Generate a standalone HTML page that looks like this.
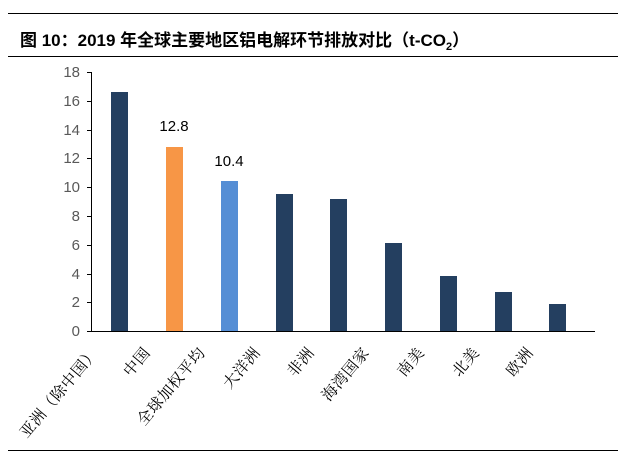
<!DOCTYPE html>
<html><head><meta charset="utf-8"><style>
html,body{margin:0;padding:0;background:#fff;}
body{width:640px;height:453px;position:relative;overflow:hidden;}
</style></head><body>
<svg width="640" height="453" xmlns="http://www.w3.org/2000/svg">
<line x1="8" y1="13.5" x2="618" y2="13.5" stroke="#000" stroke-width="1"/>
<text x="20" y="46" font-family="Liberation Sans, Noto Sans CJK SC, sans-serif" font-size="17" font-weight="bold" fill="#000">图 10：2019 年全球主要地区铝电解环节排放对比（t-CO<tspan font-size="11" dy="4">2</tspan><tspan dy="-4">）</tspan></text>
<line x1="8" y1="56.5" x2="618" y2="56.5" stroke="#000" stroke-width="1"/>
<line x1="8" y1="450.5" x2="618" y2="450.5" stroke="#000" stroke-width="1"/>
<g font-family="Liberation Sans, sans-serif" font-size="15" fill="#595959" text-anchor="end">
<text x="80" y="77">18</text><text x="80" y="106">16</text><text x="80" y="135">14</text>
<text x="80" y="163">12</text><text x="80" y="192">10</text><text x="80" y="221">8</text>
<text x="80" y="250">6</text><text x="80" y="279">4</text><text x="80" y="307">2</text>
<text x="80" y="336">0</text>
</g>
<g stroke="#000" stroke-width="1">
<line x1="91.5" y1="72" x2="91.5" y2="331"/>
<line x1="91" y1="331.5" x2="595" y2="331.5"/>
<line x1="87" y1="72.5" x2="91" y2="72.5"/><line x1="87" y1="101.5" x2="91" y2="101.5"/>
<line x1="87" y1="130.5" x2="91" y2="130.5"/><line x1="87" y1="158.5" x2="91" y2="158.5"/>
<line x1="87" y1="187.5" x2="91" y2="187.5"/><line x1="87" y1="216.5" x2="91" y2="216.5"/>
<line x1="87" y1="245.5" x2="91" y2="245.5"/><line x1="87" y1="274.5" x2="91" y2="274.5"/>
<line x1="87" y1="302.5" x2="91" y2="302.5"/><line x1="87" y1="331.5" x2="91" y2="331.5"/>
</g>
<g>
<rect x="111" y="92" width="17" height="239" fill="#243F60"/>
<rect x="166" y="147" width="17" height="184" fill="#F79646"/>
<rect x="221" y="181" width="17" height="150" fill="#558ED5"/>
<rect x="276" y="194" width="17" height="137" fill="#243F60"/>
<rect x="330" y="199" width="17" height="132" fill="#243F60"/>
<rect x="385" y="243" width="17" height="88" fill="#243F60"/>
<rect x="440" y="276" width="17" height="55" fill="#243F60"/>
<rect x="495" y="292" width="17" height="39" fill="#243F60"/>
<rect x="549" y="304" width="17" height="27" fill="#243F60"/>
</g>
<g font-family="Noto Serif CJK SC, serif" font-size="15.5" letter-spacing="0.5" fill="#000" text-anchor="end">
<text transform="translate(99,353) rotate(-50)">亚洲（除中国）</text>
<text transform="translate(151,353) rotate(-50)">中国</text>
<text transform="translate(206,353) rotate(-50)">全球加权平均</text>
<text transform="translate(261,353) rotate(-50)">大洋洲</text>
<text transform="translate(315,353) rotate(-50)">非洲</text>
<text transform="translate(370,353) rotate(-50)">海湾国家</text>
<text transform="translate(425,353) rotate(-50)">南美</text>
<text transform="translate(480,353) rotate(-50)">北美</text>
<text transform="translate(534,353) rotate(-50)">欧洲</text>
</g>
<g font-family="Liberation Sans, sans-serif" font-size="15" fill="#000" text-anchor="middle">
<text x="174" y="131">12.8</text><text x="229" y="166">10.4</text>
</g>
</svg>
</body></html>
